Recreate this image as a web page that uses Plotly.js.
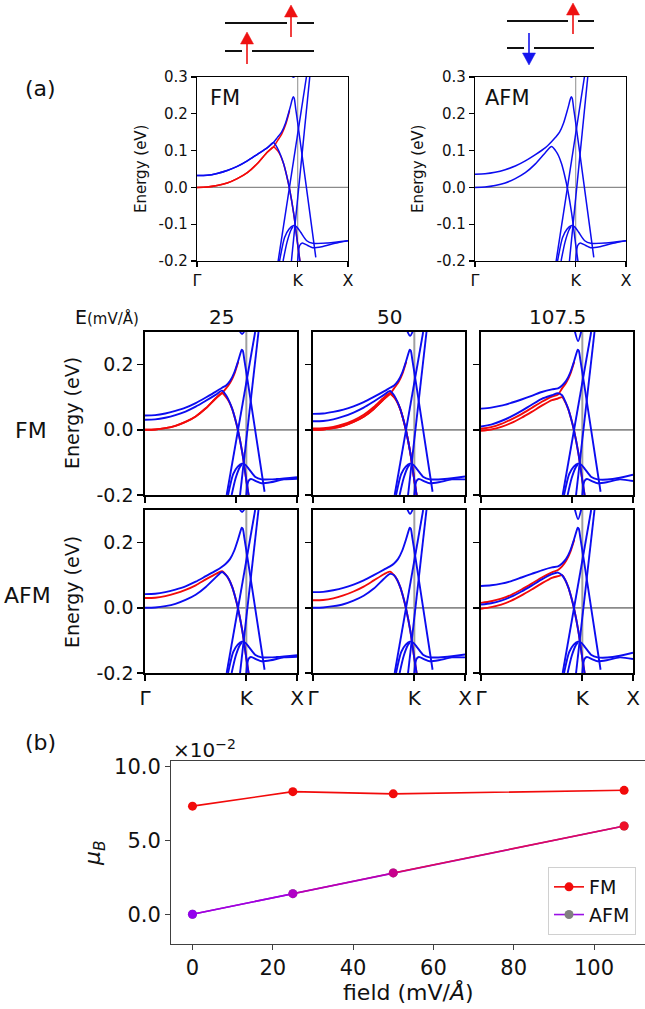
<!DOCTYPE html>
<html>
<head>
<meta charset="utf-8">
<script src="https://cdn.plot.ly/plotly-3.0.1.min.js"></script>
<style>
  html, body { margin: 0; padding: 0; background: #ffffff; }
  #fig { width: 645px; height: 1009px; }
</style>
</head>
<body>
<div id="fig"></div>
<script>
// ---------------------------------------------------------------
// Band-structure data (energies in eV). k-path: Γ = 0, K = 1, X = 1.5
// ---------------------------------------------------------------
const kTickVals = [0, 1, 1.5];
const kTickText = ['Γ', 'K', 'X'];

// sampling of the low-energy bands between Γ and the avoided crossing
const kGamma = [0, 0.1, 0.2, 0.3, 0.4, 0.5, 0.6, 0.7, 0.76];

// branch going over the top past the crossing, peak just before K, then down
const kHi = [0.80, 0.84, 0.88, 0.92, 0.945, 0.955, 0.965, 0.98, 1.0, 1.05, 1.1, 1.18];
const eHi = [0.136, 0.150, 0.175, 0.212, 0.238, 0.246, 0.243, 0.215, 0.176, 0.075, -0.027, -0.19];
// branch falling after the crossing
const kLo = [0.80, 0.83, 0.86, 0.89, 0.92, 0.96, 1.0, 1.03];
const eLo = [0.100, 0.086, 0.064, 0.033, -0.005, -0.07, -0.155, -0.215];
// lower-side companion of the rising branch (spin-split)
const kRidge = [0.80, 0.84, 0.88, 0.92];
const eRidge = [0.127, 0.144, 0.170, 0.209];
// band crossing down from the avoided crossing (ferromagnetic case)
const kDrop = [0.80, 0.83, 0.86, 0.89, 0.92, 0.96, 1.0, 1.03];
const eDrop = [0.106, 0.088, 0.065, 0.033, -0.005, -0.07, -0.155, -0.215];
// steep linear bands through K
const kS1 = [0.806, 1.087];
const eS1 = [-0.2, 0.3];
const kS2 = [0.938, 1.12];
const eS2 = [-0.2, 0.3];
// hole-like hump below K running out to X
const kHump = [0.82, 0.87, 0.915, 0.955, 0.99, 1.03, 1.09, 1.15, 1.3, 1.5];
const eHumpBase = [-0.2, -0.136, -0.113, -0.104, -0.107, -0.122, -0.145, -0.152, -0.151];
const kArch = [0.855, 0.895, 0.935, 0.955];
const eArch = [-0.2, -0.148, -0.115, -0.106];
const kLow = [1.0, 1.02, 1.045, 1.1, 1.15, 1.24, 1.37, 1.5];
const eLowBase = [-0.2, -0.158, -0.151, -0.158, -0.164, -0.161, -0.152];
// band dipping in from above near K
const kV = [0.92, 0.958, 0.995];
const eVArm = 0.31;

// zero field
const fm0Red    = [0.000, 0.001, 0.005, 0.012, 0.024, 0.040, 0.065, 0.096, 0.110];
const fm0Blue   = [0.032, 0.033, 0.038, 0.046, 0.057, 0.072, 0.090, 0.108, 0.122];
const afm0Upper = [0.036, 0.037, 0.041, 0.048, 0.058, 0.072, 0.089, 0.108, 0.124];
const afm0Lower = [0.000, 0.001, 0.005, 0.012, 0.024, 0.040, 0.064, 0.095, 0.111];
const vMinZero = 0.299, humpEndZero = -0.145, lowEndZero = -0.145;

// FM under field
const fm25BlueA  = [0.044, 0.045, 0.050, 0.058, 0.068, 0.082, 0.099, 0.117, 0.129];
const fm25BlueB  = [0.031, 0.032, 0.037, 0.045, 0.056, 0.071, 0.089, 0.108, 0.120];
const fm25Red    = [0.000, 0.001, 0.005, 0.012, 0.024, 0.041, 0.066, 0.097, 0.113];
const fm50BlueA  = [0.049, 0.050, 0.055, 0.062, 0.072, 0.085, 0.101, 0.118, 0.129];
const fm50BlueB  = [0.026, 0.027, 0.032, 0.041, 0.053, 0.068, 0.087, 0.107, 0.119];
const fm50Red1   = [0.004, 0.005, 0.009, 0.017, 0.029, 0.046, 0.070, 0.099, 0.113];
const fm50Red2   = [0.000, 0.001, 0.005, 0.012, 0.024, 0.040, 0.064, 0.094, 0.110];
const fm107BlueA = [0.065, 0.068, 0.074, 0.083, 0.093, 0.104, 0.116, 0.124, 0.127];
const fm107BlueB = [0.010, 0.016, 0.027, 0.041, 0.058, 0.077, 0.095, 0.106, 0.112];
const fm107Red1  = [0.003, 0.008, 0.018, 0.032, 0.048, 0.067, 0.086, 0.102, 0.108];
const fm107Red2  = [-0.003, 0.001, 0.009, 0.021, 0.037, 0.055, 0.074, 0.091, 0.096];

// AFM under field
const afm25Upper  = [0.042, 0.043, 0.048, 0.056, 0.066, 0.080, 0.097, 0.114, 0.126];
const afm25Red    = [0.030, 0.031, 0.036, 0.044, 0.055, 0.069, 0.087, 0.104, 0.112];
const afm25Lower  = [0.000, 0.001, 0.005, 0.012, 0.024, 0.040, 0.064, 0.094, 0.110];
const afm50Upper  = [0.048, 0.049, 0.054, 0.061, 0.071, 0.084, 0.100, 0.117, 0.127];
const afm50Red    = [0.023, 0.024, 0.029, 0.038, 0.050, 0.065, 0.084, 0.103, 0.111];
const afm50Lower  = [0.000, 0.001, 0.005, 0.011, 0.022, 0.037, 0.059, 0.089, 0.104];
const afm107Upper = [0.067, 0.069, 0.074, 0.082, 0.093, 0.104, 0.115, 0.124, 0.127];
const afm107Red1  = [0.015, 0.020, 0.028, 0.040, 0.056, 0.074, 0.093, 0.109, 0.116];
const afm107Blue2 = [0.010, 0.014, 0.022, 0.034, 0.050, 0.068, 0.087, 0.103, 0.108];
const afm107Red2  = [-0.003, 0.002, 0.010, 0.022, 0.038, 0.056, 0.075, 0.092, 0.097];

const fieldLabels  = ['25', '50', '107.5'];
const vMinField    = [0.294, 0.288, 0.272];
const humpEndField = [-0.145, -0.143, -0.138];
const lowEndField  = [-0.150, -0.152, -0.157];

// ---------------------------------------------------------------
// Magnetic moment vs. field (units of 1e-2 μB)
// ---------------------------------------------------------------
const fieldVals = [0, 25, 50, 107.5];
const momentFM  = [7.35, 8.33, 8.18, 8.42];
const momentAFM = [0.05, 1.44, 2.84, 6.01];
const afmPointColors   = ['#9400ee', '#b000c6', '#c8008c', '#ee1028'];
const afmSegmentColors = ['#a200dc', '#bc00aa', '#dc0a5c'];

// ---------------------------------------------------------------
const W = 645, H = 1009;
const px = v => v / W;
const py = v => 1 - v / H;
const FONT = 'DejaVu Sans, Liberation Sans, sans-serif';
const RED = '#f20a0a';
const BLUE = '#0c0cf0';
const GRAY = '#8a8a8a';

const traces = [];
const shapes = [];
const annotations = [];
const layout = {
  width: W, height: H,
  margin: { l: 0, r: 0, t: 0, b: 0 },
  paper_bgcolor: '#ffffff', plot_bgcolor: '#ffffff',
  font: { family: FONT, color: '#111111' },
  showlegend: true,
  shapes, annotations
};

function addLine(xs, ys, color, width, s) {
  traces.push({
    type: 'scatter', mode: 'lines', x: xs, y: ys,
    xaxis: 'x' + s, yaxis: 'y' + s,
    line: { color, width, shape: 'spline', smoothing: 0.7 },
    hoverinfo: 'skip', showlegend: false
  });
}

function contOf(name) {
  if (name === 'hi') return [kHi, eHi];
  if (name === 'lo') return [kLo, eLo];
  if (name === 'drop') return [kDrop, eDrop];
  return [kRidge, eRidge];
}

// one band-structure panel
function bandPanel(n, box, cfg) {
  const s = n === 1 ? '' : String(n);
  const [l, r, t, b] = box;
  const big = cfg.big;
  const frameW = big ? 1.7 : 1.2;
  layout['xaxis' + s] = {
    domain: [px(l), px(r)], range: [0, 1.5], anchor: 'y' + s,
    showgrid: false, zeroline: false, fixedrange: true,
    showline: true, mirror: true, linecolor: '#000', linewidth: frameW,
    ticks: 'outside', ticklen: big ? 6 : 5, tickwidth: frameW, tickcolor: '#000',
    tickvals: cfg.xTicks, ticktext: kTickText,
    showticklabels: cfg.xLabels,
    tickfont: { family: FONT, size: big ? 20 : 16, color: '#111' }
  };
  layout['yaxis' + s] = {
    domain: [py(b), py(t)], range: [-0.2, 0.3], anchor: 'x' + s,
    showgrid: false, zeroline: false, fixedrange: true,
    showline: true, mirror: true, linecolor: '#000', linewidth: frameW,
    ticks: 'outside', ticklen: big ? 6 : 5, tickwidth: frameW, tickcolor: '#000',
    tickvals: big ? [-0.2, 0, 0.2] : [-0.2, -0.1, 0, 0.1, 0.2, 0.3],
    ticktext: big ? ['-0.2', '0.0', '0.2'] : ['-0.2', '-0.1', '0.0', '0.1', '0.2', '0.3'],
    showticklabels: cfg.yLabels,
    tickfont: { family: FONT, size: big ? 19 : 15, color: '#111' }
  };
  // Fermi level and K marker
  shapes.push({ type: 'line', layer: 'below', xref: 'x' + s + ' domain', x0: 0, x1: 1,
    yref: 'y' + s, y0: 0, y1: 0, line: { color: GRAY, width: big ? 1.8 : 1.3 } });
  shapes.push({ type: 'line', layer: 'below', xref: 'x' + s, x0: 1, x1: 1,
    yref: 'y' + s + ' domain', y0: 0, y1: 1, line: { color: '#a0a0a0', width: big ? 2 : 1.2 } });

  const w = big ? 1.9 : 1.5;
  const ordered = cfg.bands.filter(d => d[0] === 'r').concat(cfg.bands.filter(d => d[0] === 'b'));
  ordered.forEach(([c, e, cont]) => {
    const [kc, ec] = contOf(cont);
    addLine(kGamma.concat(kc), e.concat(ec), c === 'r' ? RED : BLUE, w, s);
  });
  addLine(kS1, eS1, BLUE, w, s);
  addLine(kS2, eS2, BLUE, w, s);
  addLine(kHump, eHumpBase.concat([cfg.humpEnd]), BLUE, w, s);
  addLine(kArch, eArch, BLUE, w, s);
  addLine(kLow, eLowBase.concat([cfg.lowEnd]), BLUE, w, s);
  addLine(kV, [eVArm, cfg.vMin, eVArm], BLUE, w, s);
}

// ---- zero-field panels ----
bandPanel(1, [197, 348, 77, 261], {
  big: false, xTicks: kTickVals, xLabels: true, yLabels: true,
  bands: [['r', fm0Red, 'lo'], ['r', fm0Red, 'ridge'], ['b', fm0Blue, 'hi'], ['b', fm0Blue, 'drop']],
  vMin: vMinZero, humpEnd: humpEndZero, lowEnd: lowEndZero
});
bandPanel(2, [475, 626, 77, 261], {
  big: false, xTicks: kTickVals, xLabels: true, yLabels: true,
  bands: [['b', afm0Upper, 'hi'], ['b', afm0Lower, 'lo']],
  vMin: vMinZero, humpEnd: humpEndZero, lowEnd: lowEndZero
});

// ---- field panels ----
const cols = [[145, 297], [313, 465], [481, 633]];
const rowFM = [332, 495], rowAFM = [510, 673];
const fmBands = [
  [['r', fm25Red, 'lo'], ['r', fm25Red, 'ridge'], ['b', fm25BlueA, 'hi'], ['b', fm25BlueB, 'drop']],
  [['r', fm50Red1, 'lo'], ['r', fm50Red2, 'lo'], ['r', fm50Red2, 'ridge'], ['b', fm50BlueA, 'hi'], ['b', fm50BlueB, 'drop']],
  [['r', fm107Red1, 'ridge'], ['r', fm107Red2, 'lo'], ['b', fm107BlueA, 'hi'], ['b', fm107BlueB, 'drop']]
];
const afmBands = [
  [['r', afm25Red, 'lo'], ['b', afm25Upper, 'hi'], ['b', afm25Lower, 'lo']],
  [['r', afm50Red, 'lo'], ['b', afm50Upper, 'hi'], ['b', afm50Lower, 'lo']],
  [['r', afm107Red1, 'ridge'], ['r', afm107Red2, 'lo'], ['b', afm107Upper, 'hi'], ['b', afm107Blue2, 'lo']]
];
for (let i = 0; i < 3; i++) {
  bandPanel(3 + i, [cols[i][0], cols[i][1], rowFM[0], rowFM[1]], {
    big: true, xTicks: [0, 0.9, 1.5], xLabels: false, yLabels: i === 0,
    bands: fmBands[i], vMin: vMinField[i], humpEnd: humpEndField[i], lowEnd: lowEndField[i]
  });
  bandPanel(6 + i, [cols[i][0], cols[i][1], rowAFM[0], rowAFM[1]], {
    big: true, xTicks: kTickVals, xLabels: true, yLabels: i === 0,
    bands: afmBands[i], vMin: vMinField[i], humpEnd: humpEndField[i], lowEnd: lowEndField[i]
  });
  annotations.push({ text: fieldLabels[i], xref: 'paper', yref: 'paper',
    x: px((cols[i][0] + cols[i][1]) / 2), y: py(317), showarrow: false,
    xanchor: 'center', yanchor: 'middle', font: { family: FONT, size: 20, color: '#111' } });
}

// ---- magnetic moment panel ----
layout.xaxis9 = {
  domain: [px(171), 1], range: [-5.35, 112.7], anchor: 'y9',
  showgrid: false, zeroline: false, fixedrange: true,
  showline: true, mirror: true, linecolor: '#404040', linewidth: 1,
  ticks: 'outside', ticklen: 5, tickcolor: '#404040',
  tickvals: [0, 20, 40, 60, 80, 100],
  tickfont: { family: FONT, size: 21, color: '#111' }
};
layout.yaxis9 = {
  domain: [py(944), py(761)], range: [-1.96, 10.4], anchor: 'x9',
  showgrid: false, zeroline: false, fixedrange: true,
  showline: true, mirror: true, linecolor: '#404040', linewidth: 1,
  ticks: 'outside', ticklen: 5, tickcolor: '#404040',
  tickvals: [0, 5, 10], ticktext: ['0.0', '5.0', '10.0'],
  tickfont: { family: FONT, size: 21, color: '#111' }
};
traces.push({
  type: 'scatter', mode: 'lines+markers', name: 'FM',
  x: fieldVals, y: momentFM, xaxis: 'x9', yaxis: 'y9',
  line: { color: RED, width: 1.6 }, marker: { color: RED, size: 9 },
  hoverinfo: 'skip'
});
// legend entry for AFM, drawn underneath the coloured segments
traces.push({
  type: 'scatter', mode: 'lines+markers', name: 'AFM',
  x: fieldVals, y: momentAFM, xaxis: 'x9', yaxis: 'y9',
  line: { color: '#9a10e6', width: 1.6 }, marker: { color: '#808080', size: 9 },
  hoverinfo: 'skip'
});
for (let i = 0; i < fieldVals.length - 1; i++) {
  traces.push({
    type: 'scatter', mode: 'lines', x: [fieldVals[i], fieldVals[i + 1]],
    y: [momentAFM[i], momentAFM[i + 1]], xaxis: 'x9', yaxis: 'y9',
    line: { color: afmSegmentColors[i], width: 1.6 }, hoverinfo: 'skip', showlegend: false
  });
}
traces.push({
  type: 'scatter', mode: 'markers', x: fieldVals, y: momentAFM, xaxis: 'x9', yaxis: 'y9',
  marker: { color: afmPointColors, size: 9 }, hoverinfo: 'skip', showlegend: false
});
layout.legend = {
  x: px(636), xanchor: 'right', y: py(935), yanchor: 'bottom',
  bgcolor: 'rgba(255,255,255,0.9)', bordercolor: '#d0d0d0', borderwidth: 1,
  font: { family: FONT, size: 19, color: '#111' }, tracegroupgap: 4
};

// ---- text ----
function txt(text, x, y, size, extra) {
  annotations.push(Object.assign({
    text, xref: 'paper', yref: 'paper', x: px(x), y: py(y), showarrow: false,
    xanchor: 'center', yanchor: 'middle', font: { family: FONT, size, color: '#111' }
  }, extra || {}));
}
txt('(a)', 40, 88, 22);
txt('(b)', 40, 742, 22);
txt('FM', 208, 98, 21, { xanchor: 'left' });
txt('AFM', 483, 98, 21, { xanchor: 'left' });
txt('Energy (eV)', 141, 169, 15, { textangle: -90 });
txt('Energy (eV)', 418, 169, 15, { textangle: -90 });
txt('E<span style="font-size:15px">(mV/Å)</span>', 107, 317, 19);
txt('FM', 31, 430, 22);
txt('AFM', 27, 595, 22);
txt('Energy (eV)', 72, 413, 19, { textangle: -90 });
txt('Energy (eV)', 72, 592, 19, { textangle: -90 });
txt('×10<sup>−2</sup>', 171, 749, 20, { xanchor: 'left' });
txt('<i>μ</i><sub><i>B</i></sub>', 94, 853, 22, { textangle: -90 });
txt('field (mV/<i>Å</i>)', 408, 992, 22);

// ---- spin sketches above the zero-field panels ----
function hline(x0, x1, y) {
  shapes.push({ type: 'line', xref: 'paper', yref: 'paper', x0: px(x0), x1: px(x1),
    y0: py(y), y1: py(y), line: { color: '#111', width: 2 } });
}
function arrow(x, yTail, yTip, color) {
  const dir = yTip < yTail ? 1 : -1;       // 1 = pointing up
  const yBase = yTip + dir * 12;
  shapes.push({ type: 'line', xref: 'paper', yref: 'paper', x0: px(x), x1: px(x),
    y0: py(yTail), y1: py(yBase), line: { color, width: 1.6 } });
  shapes.push({ type: 'path', xref: 'paper', yref: 'paper',
    path: `M ${px(x)},${py(yTip)} L ${px(x - 6.5)},${py(yBase)} L ${px(x + 6.5)},${py(yBase)} Z`,
    fillcolor: color, line: { color, width: 0.5 } });
}
hline(225, 287, 23); hline(297, 314, 23);
hline(225, 242, 51); hline(252, 314, 51);
arrow(291, 37, 5, '#ee1111');
arrow(247, 64, 32, '#ee1111');
hline(507, 568, 21); hline(578, 594, 21);
hline(507, 524, 48); hline(534, 594, 48);
arrow(573, 34, 3, '#ee1111');
arrow(529, 33, 65, '#1515ee');

Plotly.newPlot('fig', traces, layout, { staticPlot: true, displayModeBar: false });
</script>
</body>
</html>
